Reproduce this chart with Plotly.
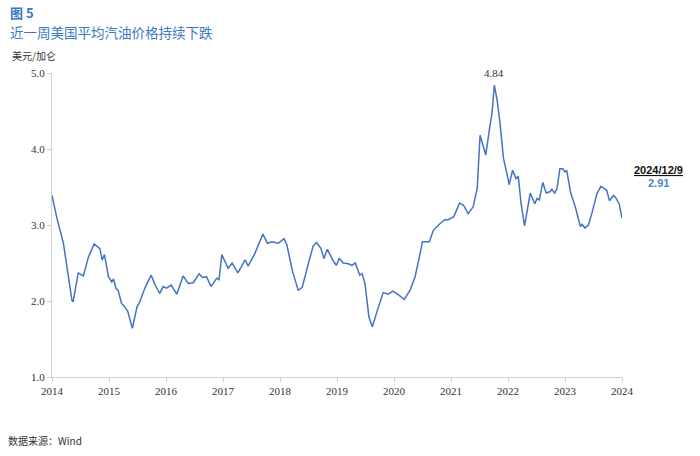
import plotly.graph_objects as go

# time position (year fraction on the chart's axis) and price (USD/gallon)
t = [2014.00, 2014.02, 2014.08, 2014.20, 2014.26, 2014.35, 2014.37, 2014.46, 2014.55, 2014.64,
     2014.74, 2014.84, 2014.88, 2014.92, 2014.99, 2015.05, 2015.08, 2015.12, 2015.16, 2015.22,
     2015.28, 2015.33, 2015.41, 2015.49, 2015.54, 2015.63, 2015.74, 2015.81, 2015.89, 2015.95,
     2016.01, 2016.09, 2016.19, 2016.30, 2016.39, 2016.48, 2016.58, 2016.64, 2016.71, 2016.79,
     2016.89, 2016.93, 2016.98, 2017.04, 2017.09, 2017.16, 2017.26, 2017.39, 2017.44, 2017.55,
     2017.62, 2017.70, 2017.78, 2017.86, 2017.97, 2018.07, 2018.12, 2018.22, 2018.32, 2018.39,
     2018.50, 2018.58, 2018.64, 2018.72, 2018.77, 2018.83, 2018.94, 2018.99, 2019.04, 2019.11,
     2019.20, 2019.26, 2019.32, 2019.40, 2019.44, 2019.49, 2019.56, 2019.62, 2019.71, 2019.81,
     2019.90, 2019.98, 2020.08, 2020.18, 2020.28, 2020.37, 2020.44, 2020.50, 2020.62, 2020.69,
     2020.81, 2020.89, 2020.95, 2021.05, 2021.15, 2021.22, 2021.30, 2021.39, 2021.46, 2021.51,
     2021.56, 2021.61, 2021.68, 2021.72, 2021.76, 2021.81, 2021.86, 2021.92, 2021.98, 2022.02,
     2022.08, 2022.14, 2022.18, 2022.23, 2022.29, 2022.33, 2022.39, 2022.47, 2022.51, 2022.55,
     2022.61, 2022.67, 2022.74, 2022.77, 2022.82, 2022.86, 2022.91, 2022.96, 2023.00, 2023.03,
     2023.10, 2023.18, 2023.23, 2023.27, 2023.30, 2023.35, 2023.41, 2023.47, 2023.56, 2023.63,
     2023.73, 2023.78, 2023.85, 2023.89, 2023.95, 2024.00]
price = [3.39, 3.31, 3.11, 2.76, 2.45, 2.01, 1.99, 2.37, 2.33, 2.58,
         2.75, 2.69, 2.54, 2.61, 2.32, 2.25, 2.29, 2.17, 2.14, 1.97,
         1.92, 1.86, 1.64, 1.92, 1.99, 2.17, 2.34, 2.21, 2.10, 2.19,
         2.17, 2.21, 2.09, 2.33, 2.23, 2.24, 2.36, 2.31, 2.32, 2.19,
         2.30, 2.28, 2.61, 2.52, 2.43, 2.50, 2.37, 2.54, 2.46, 2.61,
         2.74, 2.88, 2.76, 2.78, 2.76, 2.82, 2.74, 2.39, 2.14, 2.18,
         2.50, 2.72, 2.77, 2.69, 2.56, 2.68, 2.52, 2.47, 2.56, 2.50,
         2.49, 2.47, 2.50, 2.34, 2.36, 2.23, 1.79, 1.66, 1.88, 2.11,
         2.09, 2.13, 2.08, 2.02, 2.14, 2.32, 2.56, 2.78, 2.78, 2.93,
         3.02, 3.07, 3.07, 3.11, 3.29, 3.26, 3.15, 3.24, 3.48, 4.18,
         4.05, 3.92, 4.29, 4.47, 4.84, 4.64, 4.34, 3.88, 3.68, 3.53,
         3.72, 3.61, 3.64, 3.28, 2.99, 3.15, 3.42, 3.28, 3.35, 3.33,
         3.56, 3.42, 3.44, 3.47, 3.42, 3.48, 3.74, 3.74, 3.70, 3.72,
         3.42, 3.24, 3.11, 2.98, 3.01, 2.96, 3.00, 3.15, 3.41, 3.51,
         3.46, 3.32, 3.39, 3.36, 3.28, 3.09]

year_ticks = [2014, 2015, 2016, 2017, 2018, 2019, 2020, 2021, 2022, 2023, 2024]
y_ticks = [1.0, 2.0, 3.0, 4.0, 5.0]
peak_label = "4.84"
last_date = "2024/12/9"
last_value = "2.91"

BLUE = "#4472C4"
TITLE_BLUE = "#3b78c3"
SERIF = "Liberation Serif, DejaVu Serif, Noto Sans CJK SC, serif"
SANS = "Noto Sans CJK SC, Noto Sans, sans-serif"

fig = go.Figure()
fig.add_trace(go.Scatter(x=t, y=price, mode="lines",
                         line=dict(color=BLUE, width=1.5), hoverinfo="skip",
                         showlegend=False))

peak_i = price.index(max(price))
fig.add_annotation(x=t[peak_i], y=price[peak_i], text=peak_label, showarrow=False,
                   yshift=12, font=dict(family=SERIF, size=11, color="#333333"))

fig.update_layout(
    width=700, height=456,
    margin=dict(l=52, r=78, t=73, b=79),
    paper_bgcolor="white", plot_bgcolor="white",
    xaxis=dict(range=[2014, 2024], tickvals=year_ticks, ticktext=[str(y) for y in year_ticks],
               showgrid=False, zeroline=False, showline=True, linecolor="#d0d0d0", linewidth=1,
               ticks="outside", ticklen=4, tickcolor="#d0d0d0",
               tickfont=dict(family=SERIF, size=11, color="#333333")),
    yaxis=dict(range=[1, 5], tickvals=y_ticks, ticktext=[f"{v:.1f}" for v in y_ticks],
               showgrid=False, zeroline=False, showline=True, linecolor="#d0d0d0", linewidth=1,
               ticks="outside", ticklen=4, tickcolor="#d0d0d0",
               tickfont=dict(family=SERIF, size=11, color="#333333")),
)

fig.add_annotation(xref="paper", yref="paper", x=0, y=1, xanchor="left", yanchor="top",
                   text="<b>图 5</b>", showarrow=False, xshift=-44, yshift=72,
                   font=dict(family=SANS, size=13, color=TITLE_BLUE))
fig.add_annotation(xref="paper", yref="paper", x=0, y=1, xanchor="left", yanchor="top",
                   text="近一周美国平均汽油价格持续下跌", showarrow=False, xshift=-44, yshift=53,
                   font=dict(family=SANS, size=13.5, color=TITLE_BLUE))
fig.add_annotation(xref="paper", yref="paper", x=0, y=1, xanchor="left", yanchor="top",
                   text="美元/加仑", showarrow=False, xshift=-42, yshift=27,
                   font=dict(family=SANS, size=10, color="#333333"))
fig.add_annotation(xref="paper", yref="paper", x=0, y=0, xanchor="left", yanchor="top",
                   text="数据来源：Wind", showarrow=False, xshift=-46, yshift=-54,
                   font=dict(family=SANS, size=10, color="#333333"))
fig.add_annotation(xref="paper", yref="paper", x=1, y=1, xanchor="center", yanchor="middle",
                   text="<b><u>" + last_date + "</u></b>", showarrow=False, xshift=36, yshift=-97,
                   font=dict(family="Liberation Sans, Noto Sans, sans-serif", size=11, color="#111111"))
fig.add_annotation(xref="paper", yref="paper", x=1, y=1, xanchor="center", yanchor="middle",
                   text="<b>" + last_value + "</b>", showarrow=False, xshift=36, yshift=-110,
                   font=dict(family="Liberation Sans, Noto Sans, sans-serif", size=11, color="#4a86c8"))

fig.write_html("out.html")
